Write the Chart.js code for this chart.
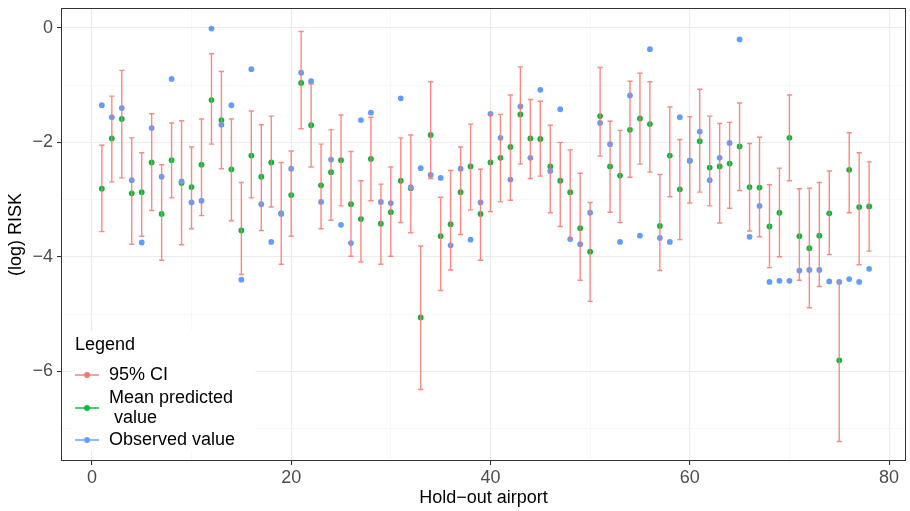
<!DOCTYPE html>
<html>
<head>
<meta charset="utf-8">
<script src="https://cdn.jsdelivr.net/npm/chart.js@4.4.1/dist/chart.umd.min.js"></script>
<style>
  html, body { margin: 0; padding: 0; background: #fff; }
  #wrap { width: 910px; height: 511px; }
</style>
</head>
<body>
<div id="wrap"><canvas id="chart" width="910" height="511"></canvas></div>
<script>
const airports = [1,2,3,4,5,6,7,8,9,10,11,12,13,14,15,16,17,18,19,20,21,22,23,24,25,26,27,28,29,30,31,32,33,34,35,36,37,38,39,40,41,42,43,44,45,46,47,48,49,50,51,52,53,54,55,56,57,58,59,60,61,62,63,64,65,66,67,68,69,70,71,72,73,74,75,76,77,78];

const observed = [-1.35,-1.56,-1.40,-2.66,-3.75,-1.75,-2.60,-0.89,-2.68,-3.05,
  -3.02,-0.01,-1.69,-1.35,-4.40,-0.72,-3.08,-3.74,-3.25,-2.46,
  -0.78,-0.93,-3.04,-2.30,-3.44,-3.76,-1.61,-1.48,-3.04,-3.06,
  -1.23,-2.78,-2.45,-2.57,-2.62,-3.80,-2.46,-3.70,-3.05,-1.50,
  -1.92,-2.65,-1.37,-2.27,-1.08,-2.50,-1.42,-3.69,-3.78,-3.23,
  -1.66,-2.03,-3.74,-1.18,-3.63,-0.37,-3.67,-3.74,-1.56,-2.32,
  -1.81,-2.66,-2.27,-2.01,-0.20,-3.65,-3.11,-4.44,-4.42,-4.42,
  -4.24,-4.23,-4.23,-4.43,-4.44,-4.39,-4.44,-4.21];

const predicted = [-2.81,-1.93,-1.59,-2.89,-2.87,-2.35,-3.25,-2.31,-2.71,-2.78,
  -2.39,-1.26,-1.61,-2.47,-3.54,-2.23,-2.60,-2.35,-3.24,-2.92,
  -0.96,-1.70,-2.75,-2.52,-2.31,-3.08,-3.34,-2.29,-3.42,-3.22,
  -2.67,-2.80,-5.06,-1.87,-3.64,-3.43,-2.87,-2.42,-3.25,-2.35,
  -2.27,-2.08,-1.51,-1.93,-1.94,-2.42,-2.67,-2.87,-3.50,-3.91,
  -1.54,-2.42,-2.58,-1.78,-1.58,-1.68,-3.46,-2.23,-2.82,-2.32,
  -1.98,-2.44,-2.42,-2.37,-2.07,-2.78,-2.79,-3.47,-3.23,-1.92,
  -3.64,-3.85,-3.63,-3.24,-5.81,-2.48,-3.13,-3.12];

const ciHigh = [-2.05,-1.19,-0.74,-1.92,-2.18,-1.50,-2.39,-1.66,-1.62,-2.08,
  -1.59,-0.45,-0.76,-1.59,-2.70,-1.45,-1.69,-1.54,-2.35,-2.15,
  -0.06,-0.98,-2.03,-1.78,-1.52,-2.16,-2.67,-1.56,-2.73,-2.43,
  -1.92,-1.87,-3.81,-0.94,-2.96,-2.49,-2.08,-1.68,-2.47,-1.50,
  -1.51,-1.17,-0.68,-1.25,-1.28,-1.70,-2.00,-2.13,-2.54,-3.05,
  -0.69,-1.63,-1.79,-0.93,-0.79,-0.94,-2.56,-1.38,-1.95,-1.55,
  -1.07,-1.54,-1.67,-1.65,-1.31,-2.02,-1.91,-2.74,-2.45,-1.17,
  -2.81,-2.80,-2.70,-2.50,-4.43,-1.83,-2.18,-2.34];

const ciLow = [-3.56,-2.69,-2.62,-3.78,-3.64,-3.19,-4.06,-2.97,-3.79,-3.51,
  -3.28,-2.03,-2.46,-3.37,-4.31,-2.97,-3.54,-3.13,-4.13,-3.64,
  -1.76,-2.43,-3.51,-3.36,-3.11,-3.99,-4.09,-3.02,-4.13,-3.99,
  -3.40,-3.58,-6.32,-2.63,-4.59,-4.23,-3.61,-3.18,-4.06,-3.21,
  -3.04,-3.01,-2.38,-2.63,-2.59,-3.23,-3.47,-3.69,-4.41,-4.78,
  -2.24,-3.22,-3.40,-2.61,-2.38,-2.52,-4.24,-2.95,-3.70,-3.06,
  -2.87,-3.11,-3.41,-3.15,-2.84,-3.55,-3.65,-4.19,-4.00,-2.67,
  -4.41,-4.89,-4.52,-3.96,-7.23,-3.23,-4.14,-3.90];

const xTicks = [0, 10, 20, 30, 40, 50, 60, 70, 80];
const xLabels = [0, 20, 40, 60, 80];
const yTicks = [-7, -6, -5, -4, -3, -2, -1, 0];
const yLabels = [-6, -4, -2, 0];

const legendItems = [
  { label: ['95% CI'], color: '#F8766D' },
  { label: ['Mean predicted', ' value'], color: '#00BA38' },
  { label: ['Observed value'], color: '#619CFF' }
];

const FONT = '"Liberation Sans", Arial, Helvetica, sans-serif';

const errorBars = {
  id: 'errorBars',
  afterDatasetsDraw(chart) {
    const { ctx, scales: { x, y } } = chart;
    ctx.save();
    ctx.strokeStyle = 'rgba(248,118,109,0.85)';
    ctx.lineWidth = 1.4;
    airports.forEach((a, i) => {
      const px = x.getPixelForValue(a);
      const top = y.getPixelForValue(ciHigh[i]);
      const bot = y.getPixelForValue(ciLow[i]);
      ctx.beginPath();
      ctx.moveTo(px, top); ctx.lineTo(px, bot);
      ctx.moveTo(px - 2.6, top); ctx.lineTo(px + 2.6, top);
      ctx.moveTo(px - 2.6, bot); ctx.lineTo(px + 2.6, bot);
      ctx.stroke();
    });
    ctx.restore();
  }
};

const panelFrame = {
  id: 'panelFrame',
  afterDraw(chart) {
    const { ctx, chartArea: a } = chart;
    ctx.save();

    // legend inside the panel, bottom left
    ctx.fillStyle = '#fff';
    ctx.fillRect(73, 331, 182, 120);
    ctx.fillStyle = '#000';
    ctx.font = '18px ' + FONT;
    ctx.textBaseline = 'middle';
    ctx.fillText('Legend', 75, 345);
    const rows = [375, 408, 440];
    legendItems.forEach((it, k) => {
      const cy = rows[k];
      ctx.strokeStyle = it.color;
      ctx.lineWidth = 1.4;
      ctx.beginPath(); ctx.moveTo(75, cy); ctx.lineTo(99, cy); ctx.stroke();
      ctx.fillStyle = it.color;
      ctx.beginPath(); ctx.arc(87, cy, 2.9, 0, Math.PI * 2); ctx.fill();
      ctx.fillStyle = '#000';
      if (it.label.length === 1) {
        ctx.fillText(it.label[0], 109, cy);
      } else {
        ctx.fillText(it.label[0], 109, cy - 10);
        ctx.fillText(it.label[1], 109, cy + 10);
      }
    });

    ctx.strokeStyle = '#333';
    ctx.lineWidth = 1;
    ctx.strokeRect(Math.round(a.left) + 0.5, Math.round(a.top) + 0.5,
      Math.round(a.right - a.left) - 1, Math.round(a.bottom - a.top) - 1);
    ctx.restore();
  }
};

const minus = v => (v < 0 ? '\u2212' + Math.abs(v) : String(v));

new Chart(document.getElementById('chart'), {
  type: 'scatter',
  data: {
    datasets: [
      {
        label: 'Mean predicted value',
        data: airports.map((a, i) => ({ x: a, y: predicted[i] })),
        backgroundColor: '#00BA38',
        borderWidth: 0,
        pointRadius: 2.9,
        order: 2
      },
      {
        label: 'Observed value',
        data: airports.map((a, i) => ({ x: a, y: observed[i] })),
        backgroundColor: '#619CFF',
        borderWidth: 0,
        pointRadius: 2.9,
        order: 1
      }
    ]
  },
  options: {
    responsive: false,
    animation: false,
    layout: { padding: { left: 0, right: 2, top: 8, bottom: 0 } },
    plugins: { legend: { display: false }, tooltip: { enabled: false } },
    scales: {
      x: {
        type: 'linear',
        min: -3.1,
        max: 81.7,
        afterBuildTicks: s => { s.ticks = xTicks.map(v => ({ value: v })); },
        afterFit: s => { s.height = 50; s.paddingLeft = 0; s.paddingRight = 0; },
        border: { display: false },
        grid: {
          color: c => (xLabels.includes(c.tick.value) ? '#EBEBEB' : '#F3F3F3'),
          lineWidth: c => (xLabels.includes(c.tick.value) ? 1.1 : 0.6),
          tickColor: c => (xLabels.includes(c.tick.value) ? '#333' : 'rgba(0,0,0,0)'),
          tickLength: 4
        },
        ticks: {
          autoSkip: false,
          maxRotation: 0,
          color: '#4D4D4D',
          font: { family: FONT, size: 18 },
          padding: 2,
          callback: v => (xLabels.includes(v) ? minus(v) : '')
        },
        title: {
          display: true,
          text: 'Hold\u2212out airport',
          color: '#000',
          font: { family: FONT, size: 18 },
          padding: 2
        }
      },
      y: {
        type: 'linear',
        min: -7.57,
        max: 0.35,
        afterBuildTicks: s => { s.ticks = yTicks.map(v => ({ value: v })); },
        afterFit: s => { s.width = 61; s.paddingTop = 0; s.paddingBottom = 0; },
        border: { display: false },
        grid: {
          color: c => (yLabels.includes(c.tick.value) ? '#EBEBEB' : '#F3F3F3'),
          lineWidth: c => (yLabels.includes(c.tick.value) ? 1.1 : 0.6),
          tickColor: c => (yLabels.includes(c.tick.value) ? '#333' : 'rgba(0,0,0,0)'),
          tickLength: 4
        },
        ticks: {
          autoSkip: false,
          color: '#4D4D4D',
          font: { family: FONT, size: 18 },
          padding: 4,
          callback: v => (yLabels.includes(v) ? minus(v) : '')
        },
        title: {
          display: true,
          text: '(log) RISK',
          color: '#000',
          font: { family: FONT, size: 18 },
          padding: 5
        }
      }
    }
  },
  plugins: [errorBars, panelFrame]
});
</script>
</body>
</html>
